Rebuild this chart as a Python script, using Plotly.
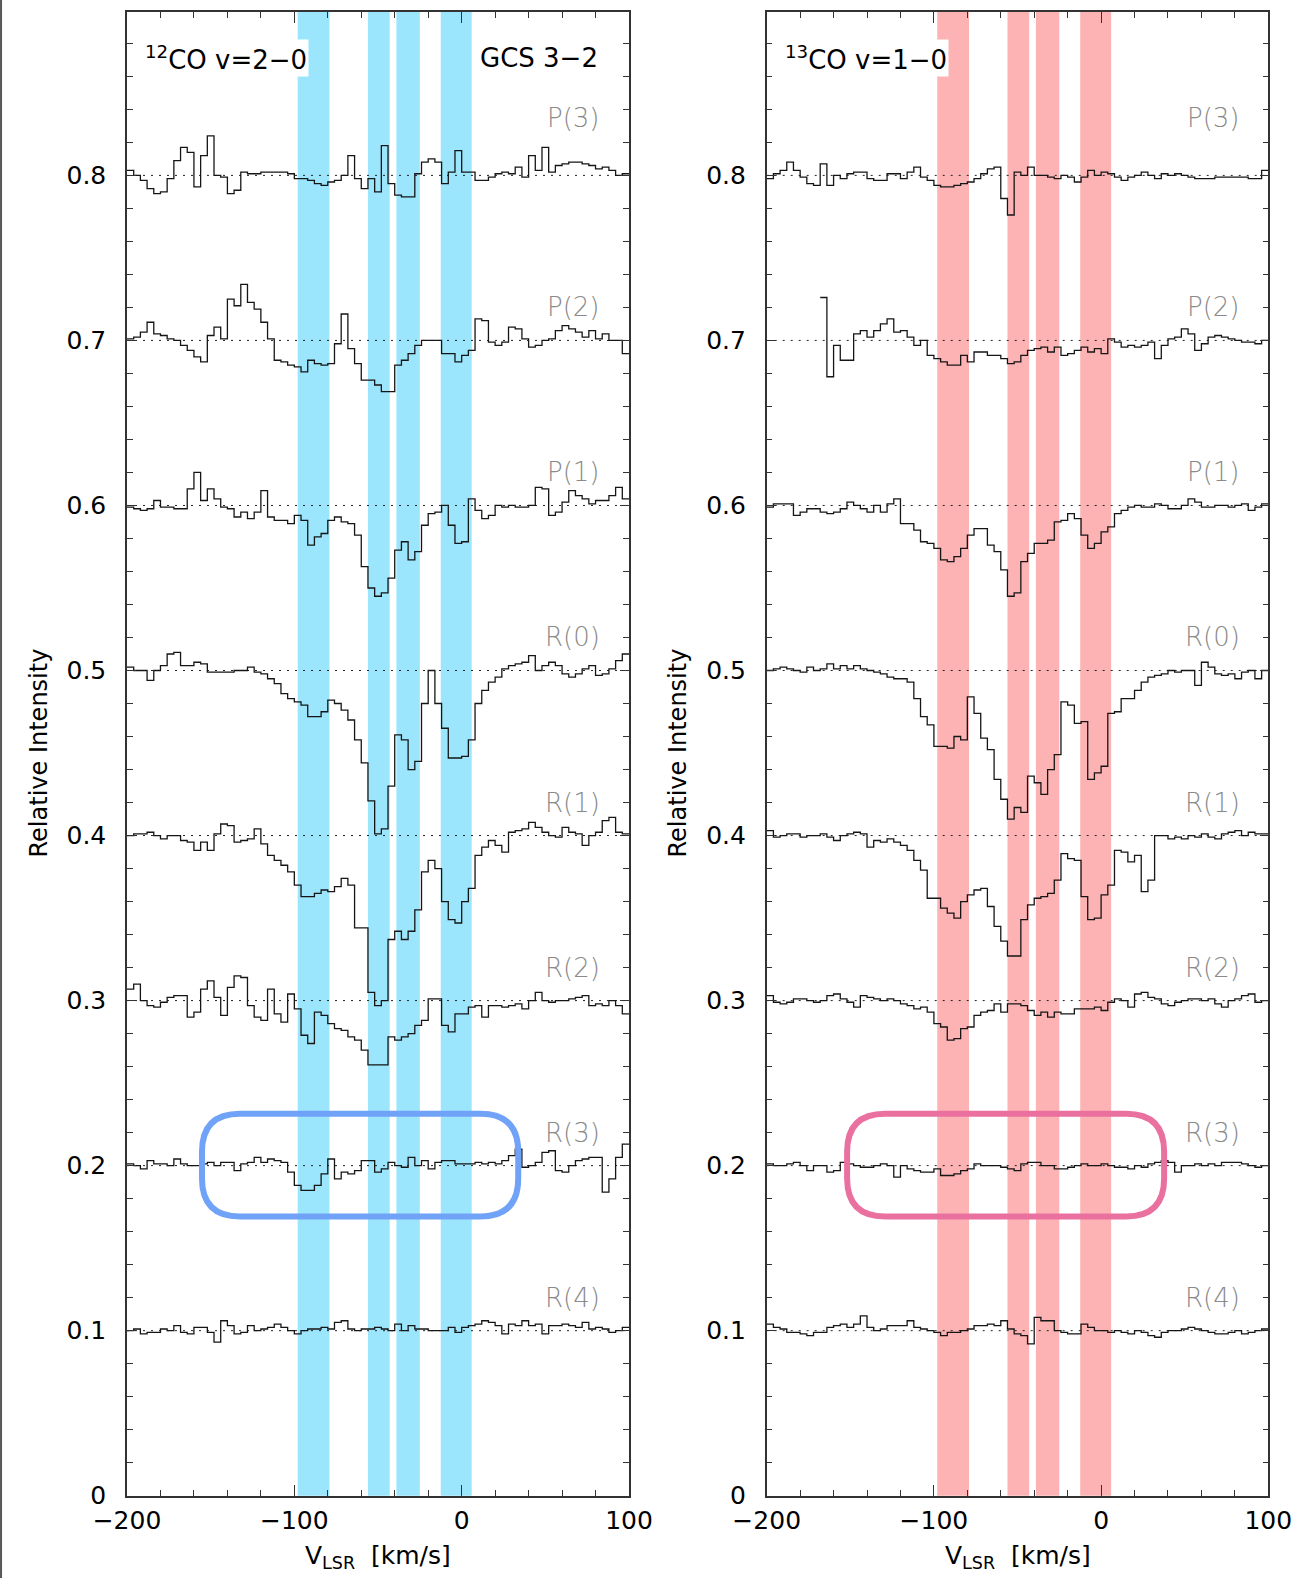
import plotly.graph_objects as go

# ---------------- data ----------------
VEL_START = -200.0      # km/s, left edge of first bin
VEL_STEP = 4.0          # km/s, bin width
NBINS = 75
velocity_edges = [VEL_START + VEL_STEP * i for i in range(NBINS + 1)]

transitions = ["P(3)", "P(2)", "P(1)", "R(0)", "R(1)", "R(2)", "R(3)", "R(4)"]
offsets = [0.8, 0.7, 0.6, 0.5, 0.4, 0.3, 0.2, 0.1]
label_levels = [0.8345, 0.72, 0.62, 0.52, 0.42, 0.32, 0.22, 0.12]

# spectra: deviation from the offset level, in units of 1e-3 relative intensity
co12_P3 = [3, 0, -3, -8, -11, -10, -2, 9, 17, 14, -7, 12, 24, 0, -1, -11, -9, 2, 1, 1,
           2, 2, 2, 2, 1, -2, -2, -3, -5, -6, -4, -3, 0, 12, -2, -8, -2, -10, 18, -5,
           -12, -13, -13, 1, 8, 10, 8, -5, 2, 15, 2, 2, -3, -3, -1, 1, 2, 1, 5, -1,
           12, 3, 17, 2, 6, 7, 8, 8, 7, 6, 4, 5, 3, 0, 1]
co12_P2 = [1, 2, 5, 11, 4, 3, 1, 0, -3, -6, -10, -13, 3, 8, 1, 25, 21, 34, 23, 19,
           11, 1, -12, -13, -15, -16, -19, -12, -14, -15, -14, -2, 16, -5, -14, -24, -24, -27, -31, -31,
           -15, -12, -8, -3, 0, 0, 0, -8, -8, -13, -9, -6, 13, 12, -1, -3, -1, 8, 7, 1,
           -4, -3, 0, 1, 6, 9, 7, 5, 2, 6, 1, 4, 0, 0, -8]
co12_P1 = [-1, -2, -3, -2, 3, -1, -1, -2, -2, 10, 20, 3, 10, 4, -1, -2, -7, -4, -8, -4,
           9, -7, -9, -9, -11, -6, -9, -24, -19, -17, -9, -7, -10, -11, -18, -37, -50, -55, -53, -44,
           -27, -22, -33, -28, -12, -5, -4, 0, -12, -23, -22, 4, -3, -8, -6, 0, -1, 0, -1, -1,
           0, 11, 10, -6, -4, 2, 9, 6, 4, 1, 3, 3, 6, 11, 4]
co12_R0 = [2, 0, 0, -6, 0, 3, 10, 11, 3, 3, 5, 4, -1, -1, -1, -1, 0, 0, 2, -1,
           -2, -5, -8, -14, -17, -19, -21, -28, -28, -25, -18, -20, -24, -30, -42, -56, -79, -99, -96, -70,
           -39, -42, -60, -55, -20, 0, -20, -35, -53, -53, -52, -42, -20, -12, -7, -4, 1, 3, 4, 5,
           9, 0, 3, 5, 3, -2, -4, -2, 1, 3, -3, -2, 1, 6, 10]
co12_R1 = [0, 1, 1, 2, 0, -2, 0, 0, -3, -4, -9, -4, -9, 1, 7, 6, -4, -3, -2, 4,
           -5, -12, -15, -18, -22, -30, -37, -37, -35, -33, -34, -31, -26, -30, -56, -56, -95, -103, -100, -63,
           -58, -63, -58, -45, -22, -15, -20, -40, -51, -53, -40, -32, -12, -7, -3, -6, -10, 2, 3, 4,
           8, 5, 2, 0, -1, 5, 2, 1, -6, 0, 2, 9, 11, 2, 1]
co12_R2 = [7, 10, 0, -3, -4, -1, 2, 3, 3, -10, -7, 7, 12, 2, -9, 8, 15, 14, -3, -10,
           -12, 7, -8, -13, 4, -5, -21, -26, -7, -9, -14, -17, -18, -22, -24, -30, -39, -39, -39, -22,
           -24, -22, -20, -15, -12, 1, 1, -15, -19, -8, -8, -4, -3, -10, -3, -3, -4, -3, -2, -5,
           0, 5, 0, -1, 0, 0, 1, 2, 3, -3, -2, -3, 0, -3, -8]
co12_R3 = [1, 0, -2, 3, 1, 1, 0, 4, 1, 0, 0, 1, 2, 0, 2, 2, -3, 1, 2, 5,
           2, 4, 3, 2, -4, -12, -15, -15, -12, -5, 4, -8, -4, -5, -3, 3, 3, -4, -2, 2,
           0, -1, 5, 0, 3, -2, 2, 3, 3, 1, 1, 1, 2, 1, 2, 1, 3, 6, 10, -1,
           0, 2, 8, 9, -3, -4, 0, 3, 4, 5, 5, -16, -8, 5, 13]
co12_R4 = [0, 1, -2, -1, -1, 1, 0, 3, -1, -2, 2, 2, -1, -7, 6, 3, -2, -1, 3, 0,
           1, 2, 4, 2, 0, -2, 0, 1, 1, 2, 1, 5, 6, 1, 0, 1, 1, 2, 1, 0,
           4, 0, 3, 1, 1, 0, 0, 0, 2, -1, 2, 3, 4, 6, 5, 3, -2, 4, 3, 6,
           3, 4, -2, 3, 3, 4, 3, 2, 5, 1, 2, 1, -1, 0, 2]

co13_P3 = [-2, 1, 3, 8, 3, -1, -5, -6, 7, -6, 0, -2, 1, 2, 2, -2, -3, -3, 1, 1,
           -2, 2, 5, -1, -3, -6, -7, -7, -6, -5, -4, -2, 1, 4, 5, -14, -24, 2, 0, 5,
           0, 0, -1, -2, 0, -1, -4, -1, 3, 0, 2, 1, -1, -3, -1, 0, 2, 0, -2, 1,
           0, 1, 0, -1, -2, -2, -2, -1, -1, -1, -1, -1, -2, -2, 3]
co13_P2 = [None, None, None, None, None, None, None, None, 26, -22, -3, -12, -12, 4, 6, 2, 6, 10, 13, 5,
           6, 2, -3, 0, -9, -11, -13, -15, -15, -9, -13, -7, -7, -9, -9, -11, -14, -13, -9, -6,
           -5, -4, -7, -4, -9, -8, -6, -4, -7, -5, -8, 1, -1, -4, -3, -4, -3, -1, -11, -3,
           1, 2, 7, 4, -6, -2, 2, 3, 2, 1, 0, -1, -1, -2, 0]
co13_P1 = [-1, 1, 1, 1, -6, -4, -2, -2, -4, -5, -4, -2, 2, 0, -2, -4, 0, -4, 1, 4,
           -11, -11, -15, -22, -23, -26, -33, -34, -31, -26, -18, -14, -14, -24, -28, -39, -55, -53, -34, -29,
           -23, -23, -21, -10, -9, -5, -8, -18, -26, -23, -16, -13, -5, -3, -1, 0, -1, -1, 1, 0,
           -2, -2, 0, 4, 2, -1, -1, 0, 0, -1, 0, 1, -3, -1, 1]
co13_R0 = [0, 1, 2, 1, 0, -1, 2, 0, 1, 4, 1, 3, 1, 3, 1, 0, -1, -2, -4, -5,
           -5, -7, -17, -28, -33, -46, -46, -47, -40, -42, -16, -26, -41, -48, -66, -78, -90, -83, -86, -64,
           -68, -75, -60, -51, -19, -21, -32, -31, -66, -62, -58, -26, -25, -17, -17, -12, -7, -4, -3, -2,
           0, -1, 0, 0, -9, 5, 2, -2, -3, -2, -5, -1, 0, -5, 0]
co13_R1 = [3, -1, 0, 1, 1, -1, 0, 0, 1, -1, -3, 0, 1, 2, 1, -7, -3, -4, -2, -4,
           -6, -9, -15, -21, -38, -38, -44, -47, -50, -40, -36, -33, -32, -43, -55, -64, -73, -73, -51, -42,
           -38, -37, -35, -27, -11, -14, -15, -37, -51, -50, -36, -30, -9, -10, -16, -12, -34, -27, 0, 0,
           -2, -1, -2, 0, -1, 1, -1, -2, 1, 2, 3, 0, 2, 1, 1]
co13_R2 = [3, -1, -2, -1, 1, 1, 0, -1, 0, 3, 4, 1, -1, -4, 3, 2, 1, 0, 1, 0,
           -2, -3, -5, -4, -7, -14, -16, -24, -23, -17, -16, -9, -7, -6, -2, -7, -2, -2, -3, -6,
           -9, -7, -10, -7, -8, -8, -5, -5, -5, -4, -6, -1, 1, 0, -4, 4, 5, 2, 1, -2,
           -3, -1, 0, 1, 1, 0, 1, -2, -4, 0, 1, 3, 4, -1, 0]
co13_R3 = [1, 0, 0, 1, 2, 0, -3, 0, 0, -4, -3, 2, 1, 0, -1, -1, 0, 1, 0, -7,
           0, -2, -3, -4, -4, -2, -6, -6, -5, -3, -2, 1, 0, 0, 0, -1, -2, -3, 1, 2,
           2, 0, 0, -2, -2, -1, 0, 1, 0, 0, 1, 0, -1, -1, -2, 0, -1, 1, 2, 3,
           2, -4, 0, 0, 1, 0, 1, 0, 2, 2, 2, 1, 0, -1, 0]
co13_R4 = [4, 2, 1, -1, -1, -2, -3, -1, -1, 2, 3, 4, 2, 4, 9, 2, 0, 1, 3, 3,
           3, 6, 2, 1, 0, -1, -3, -1, -1, 0, 1, 3, 3, 4, 3, 6, 1, -2, -3, -8,
           8, 6, 6, 0, -1, -2, -2, 4, 2, 0, 0, -1, 0, -1, -2, 0, -1, -3, -4, -1,
           0, 0, 1, 2, 1, 0, -1, -2, -2, -1, 0, -2, -1, 0, 1]

co12_spectra = [co12_P3, co12_P2, co12_P1, co12_R0, co12_R1, co12_R2, co12_R3, co12_R4]
co13_spectra = [co13_P3, co13_P2, co13_P1, co13_R0, co13_R1, co13_R2, co13_R3, co13_R4]

velocity_bands = [(-98, -79), (-56, -43), (-39, -25), (-12.5, 6)]

panel_titles = ["<sup>12</sup>CO v=2\u22120", "<sup>13</sup>CO v=1\u22120"]
source_name = "GCS 3\u22122"

x_tickvals = [-200, -100, 0, 100]
x_ticktext = ["\u2212200", "\u2212100", "0", "100"]
y_tickvals = [0, 0.1, 0.2, 0.3, 0.4, 0.5, 0.6, 0.7, 0.8]
y_ticktext = ["0", "0.1", "0.2", "0.3", "0.4", "0.5", "0.6", "0.7", "0.8"]

# ---------------- styling / layout ----------------
W, H = 1295, 1578
FONT = "DejaVu Sans"
BAND_COLORS = ["#9be6fc", "#fdb3b3"]
BOX_COLORS = ["#70a2f7", "#ea70a0"]
# highlight boxes around R(3): (x0, x1, y0, y1) in data units
BOXES = [(-155.2, 33.8, 0.1692, 0.2314), (-151.9, 37.7, 0.1692, 0.2314)]
BOX_R_PX = 38

x_dom = [[127 / W, 629 / W], [766.7 / W, 1268.3 / W]]
y_dom = [1 - 1495.7 / H, 1 - 12 / H]
Y_MAX = 0.899

fig = go.Figure()

for p, spectra in enumerate([co12_spectra, co13_spectra]):
    xa = "x" if p == 0 else "x2"
    ya = "y" if p == 0 else "y2"
    for name, off, vals in zip(transitions, offsets, spectra):
        ys = [None if v is None else off + v / 1000.0 for v in vals]
        ys = ys + [ys[-1]]
        fig.add_trace(go.Scatter(
            x=velocity_edges, y=ys, mode="lines", line_shape="hv",
            line=dict(color="#151515", width=1.3), connectgaps=False,
            xaxis=xa, yaxis=ya, showlegend=False, hoverinfo="skip", name=name))

shapes = []
annotations = []
for p in range(2):
    xa = "x" if p == 0 else "x2"
    ya = "y" if p == 0 else "y2"
    # velocity bands
    for (v0, v1) in velocity_bands:
        shapes.append(dict(type="rect", xref=xa, yref=ya + " domain", x0=v0, x1=v1, y0=0, y1=1,
                           fillcolor=BAND_COLORS[p], line=dict(width=0), layer="below"))
    # dotted baselines
    for off in offsets:
        shapes.append(dict(type="line", xref=xa, yref=ya, x0=-200, x1=100, y0=off, y1=off,
                           line=dict(color="#222", width=1, dash="2px,6px"), layer="below"))
    # rounded highlight box
    x0, x1, y0, y1 = BOXES[p]
    pxu = (x_dom[p][1] - x_dom[p][0]) * W / 300.0
    pyu = (y_dom[1] - y_dom[0]) * H / Y_MAX
    rx, ry = BOX_R_PX / pxu, BOX_R_PX / pyu
    path = (f"M {x0+rx},{y1} L {x1-rx},{y1} Q {x1},{y1} {x1},{y1-ry} "
            f"L {x1},{y0+ry} Q {x1},{y0} {x1-rx},{y0} L {x0+rx},{y0} "
            f"Q {x0},{y0} {x0},{y0+ry} L {x0},{y1-ry} Q {x0},{y1} {x0+rx},{y1} Z")
    shapes.append(dict(type="path", xref=xa, yref=ya, path=path,
                       line=dict(color=BOX_COLORS[p], width=6), layer="above"))
    # transition labels
    for name, ly in zip(transitions, label_levels):
        annotations.append(dict(xref=xa, yref=ya, x=84, y=ly, text=name, showarrow=False,
                                xanchor="right", yanchor="middle",
                                font=dict(family=FONT, size=26, color="#8a8a8a", weight=300)))
    # panel title
    annotations.append(dict(xref=xa, yref=ya, x=-190.5, y=0.8713, text=panel_titles[p],
                            showarrow=False, xanchor="left", yanchor="middle",
                            bgcolor="white", borderpad=1,
                            font=dict(family=FONT, size=26, color="black")))
    # axis titles
    cx = (x_dom[p][0] + x_dom[p][1]) / 2
    annotations.append(dict(xref="paper", yref="paper", x=cx, y=1 - 1557 / H,
                            text="V<sub>LSR</sub>  [km/s]", showarrow=False,
                            xanchor="center", yanchor="middle",
                            font=dict(family=FONT, size=25, color="black")))
    annotations.append(dict(xref="paper", yref="paper", x=(38.5 if p == 0 else 677.5) / W,
                            y=1 - 753 / H, text="Relative Intensity", textangle=-90,
                            showarrow=False, xanchor="center", yanchor="middle",
                            font=dict(family=FONT, size=24, color="black")))

annotations.append(dict(xref="x", yref="y", x=82.5, y=0.8713, text=source_name, showarrow=False,
                        xanchor="right", yanchor="middle",
                        font=dict(family=FONT, size=26, color="black")))

# thin frame line at the very left of the image
shapes.append(dict(type="line", xref="paper", yref="paper", x0=0.0008, x1=0.0008, y0=0, y1=1,
                   line=dict(color="#555", width=2)))

axis_common = dict(showgrid=False, zeroline=False, showline=True, linecolor="#333",
                   linewidth=1.5, mirror="ticks", ticks="inside", tickcolor="#333",
                   tickwidth=1.2, automargin=False,
                   tickfont=dict(family=FONT, size=25, color="black"))

layout = dict(width=W, height=H, margin=dict(l=0, r=0, t=0, b=0, autoexpand=False),
              autosize=False, paper_bgcolor="white", plot_bgcolor="white",
              shapes=shapes, annotations=annotations, showlegend=False)

for p in range(2):
    xk = "xaxis" if p == 0 else "xaxis2"
    yk = "yaxis" if p == 0 else "yaxis2"
    layout[xk] = dict(axis_common, domain=x_dom[p], range=[-200, 100],
                      anchor="y" if p == 0 else "y2",
                      tickmode="array", tickvals=x_tickvals, ticktext=x_ticktext, ticklen=11,
                      ticklabelstandoff=2,
                      minor=dict(tickmode="linear", tick0=-200, dtick=20, ticks="inside",
                                 ticklen=6, tickcolor="#333", tickwidth=1.2))
    layout[yk] = dict(axis_common, domain=y_dom, range=[0, Y_MAX],
                      anchor="x" if p == 0 else "x2",
                      tickmode="array", tickvals=y_tickvals, ticktext=y_ticktext, ticklen=9,
                      ticklabelstandoff=14,
                      minor=dict(tickmode="linear", tick0=0, dtick=0.02, ticks="inside",
                                 ticklen=6, tickcolor="#333", tickwidth=1.2))

fig.update_layout(**layout)
fig.write_html("out.html", config={"displayModeBar": False},
               post_script="document.body.style.margin='0';")
